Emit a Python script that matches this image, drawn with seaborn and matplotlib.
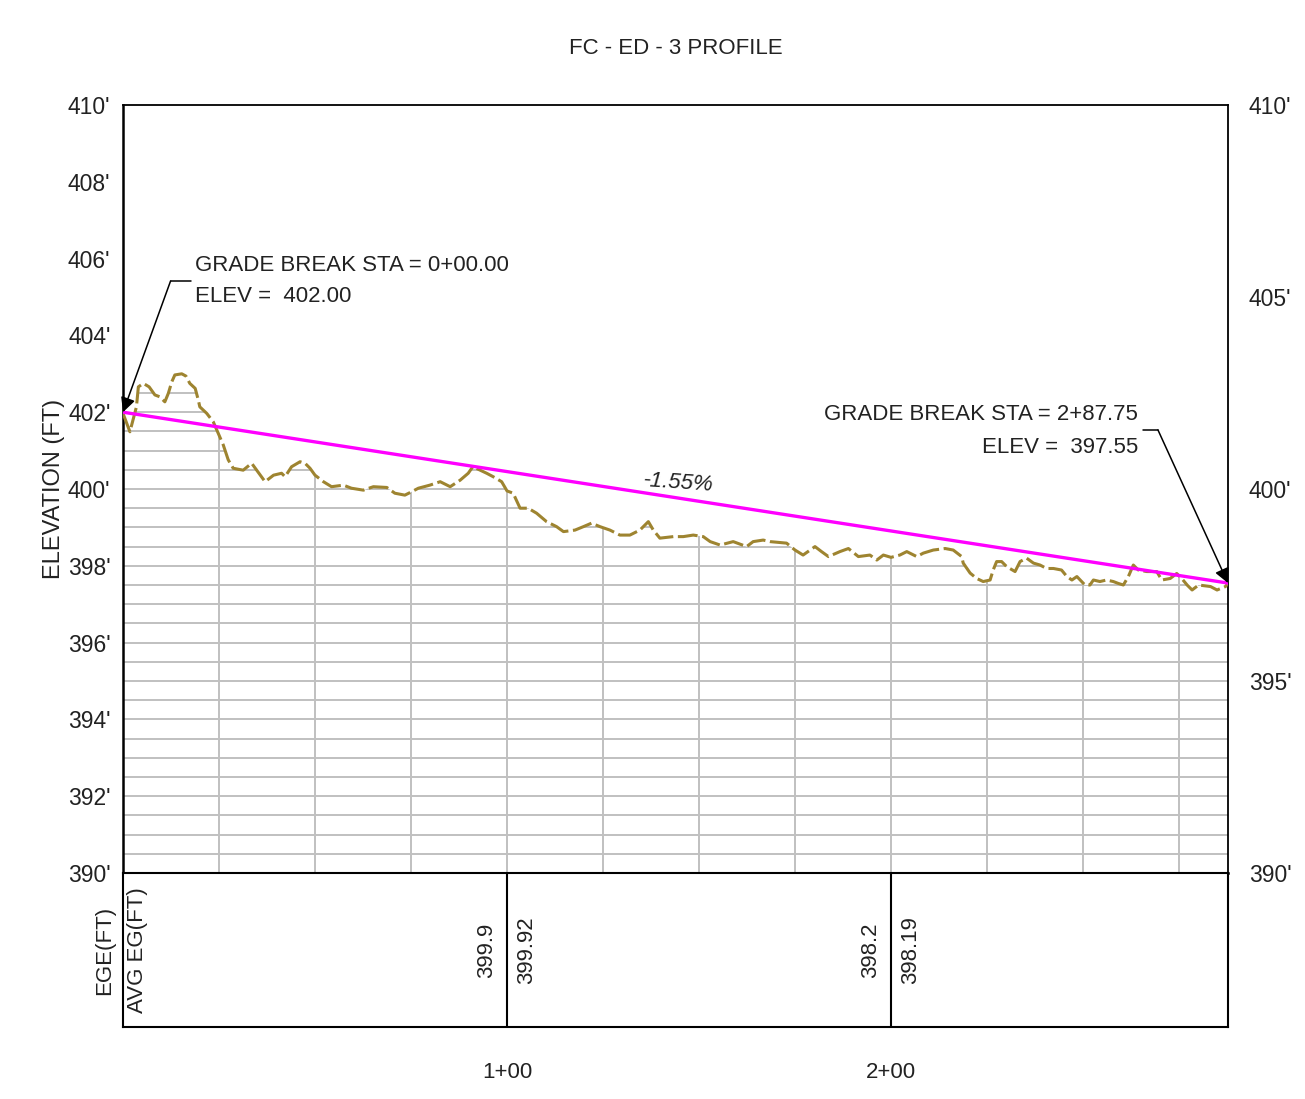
import numpy as np
import pandas as pd
import matplotlib
matplotlib.use("Agg")
import matplotlib.pyplot as plt
from matplotlib.patches import Polygon
import seaborn as sns

# Existing ground profile: station (ft) and elevation (ft)
stations = [0, 1.8, 3.5, 4.0, 5.3, 6.8, 8.3, 9.6, 10.9, 11.8, 12.7, 13.5, 15.3, 16.4,
            17.4, 18.8, 19.6, 20.0, 21.8, 23.5, 24.8, 26.1, 27.4, 28.7, 31.3, 33.5,
            34.8, 37.0, 39.2, 41.3, 42.2, 43.9, 46.1, 47.4, 48.7, 50.0, 52.2, 54.3,
            57.4, 59.5, 62.6, 65.2, 68.7, 70.8, 73.4, 75.2, 76.9, 79.9, 82.6, 85.2,
            87.8, 89.9, 91.1, 93.0, 94.7, 96.4, 98.6, 100.0, 101.6, 103.4, 105.5,
            107.7, 110.3, 112.9, 114.7, 117.7, 119.9, 122.0, 124.2, 126.8, 129.4,
            132.0, 134.6, 136.8, 138.1, 139.8, 143.3, 145.9, 148.5, 151.1, 152.9,
            155.5, 158.9, 162.4, 164.1, 166.7, 168.5, 172.8, 175.0, 177.1, 180.2,
            181.9, 183.7, 186.7, 188.9, 191.5, 194.5, 196.3, 198.0, 200.0, 202.3,
            204.1, 206.7, 208.4, 211.0, 214.1, 216.2, 218.4, 218.8, 220.6, 222.3,
            224.0, 225.8, 226.6, 227.5, 228.8, 230.1, 232.3, 233.6, 235.3, 237.1,
            238.8, 240.5, 242.3, 244.4, 245.8, 247.1, 248.4, 250.5, 251.8, 252.7,
            254.4, 256.1, 257.9, 259.2, 260.5, 261.8, 263.1, 264.4, 266.6, 269.2,
            270.5, 272.7, 274.4, 275.7, 277.1, 278.4, 280.1, 283.2, 284.9, 287.1,
            287.75]
ground_elev = [401.97, 401.49, 402.14, 402.66, 402.75, 402.66, 402.45, 402.40, 402.27,
               402.49, 402.79, 402.97, 403.00, 402.94, 402.75, 402.62, 402.32, 402.14,
               401.97, 401.75, 401.45, 401.15, 400.76, 400.54, 400.49, 400.67, 400.49,
               400.19, 400.36, 400.41, 400.32, 400.58, 400.71, 400.67, 400.54, 400.36,
               400.19, 400.06, 400.10, 400.02, 399.97, 400.06, 400.04, 399.89, 399.84,
               399.93, 400.02, 400.10, 400.19, 400.06, 400.23, 400.41, 400.58, 400.49,
               400.41, 400.32, 400.19, 399.95, 399.89, 399.50, 399.50, 399.37, 399.15,
               399.02, 398.89, 398.93, 399.02, 399.11, 399.02, 398.93, 398.80, 398.80,
               398.93, 399.15, 398.93, 398.72, 398.76, 398.76, 398.80, 398.76, 398.63,
               398.54, 398.63, 398.50, 398.63, 398.67, 398.63, 398.59, 398.41, 398.28,
               398.50, 398.37, 398.24, 398.37, 398.45, 398.24, 398.28, 398.15, 398.28,
               398.22, 398.28, 398.37, 398.24, 398.33, 398.41, 398.45, 398.41, 398.24,
               398.07, 397.81, 397.67, 397.59, 397.63, 397.89, 398.11, 398.11, 397.98,
               397.85, 398.11, 398.20, 398.07, 398.02, 397.93, 397.93, 397.89, 397.72,
               397.63, 397.72, 397.50, 397.50, 397.63, 397.59, 397.63, 397.59, 397.54,
               397.50, 397.72, 398.02, 397.89, 397.85, 397.85, 397.63, 397.67, 397.80,
               397.67, 397.50, 397.37, 397.50, 397.46, 397.37, 397.46, 397.55]

# Proposed grade between the two grade breaks
grade_sta = [0.0, 287.75]
grade_elev = [402.00, 397.55]
grade_label = "-1.55%"

# Band values below the profile
band_sta = [100, 200]
band_ege = ["399.9", "398.2"]
band_avg = ["399.92", "398.19"]
station_labels = ["1+00", "2+00"]

left_ticks = list(range(390, 411, 2))
right_ticks = list(range(390, 411, 5))

sns.set_theme(style="white")
plt.rcParams["font.family"] = ["Liberation Sans", "DejaVu Sans"]
plt.rcParams["axes.edgecolor"] = "black"

W, H = 1305, 1099
fig = plt.figure(figsize=(W / 100, H / 100), dpi=100)
fig.patch.set_facecolor("white")

x0, x1 = 123 / W, 1228 / W
ax = fig.add_axes([x0, 1 - 873 / H, x1 - x0, (873 - 105) / H])
tb = fig.add_axes([x0, 1 - 1027 / H, x1 - x0, (1027 - 873) / H])

xmin, xmax = 0.0, 287.75
ymin, ymax = 390, 410
ax.set_xlim(xmin, xmax)
ax.set_ylim(ymin, ymax)

# Grid hatching under the ground line
grid_color = "#c0c0c0"
under = Polygon(list(zip(stations, ground_elev)) + [(xmax, ymin), (xmin, ymin)],
                closed=True, transform=ax.transData, facecolor="none", edgecolor="none")
ax.add_patch(under)
h_lines = ax.hlines(np.arange(390.5, 403.5, 0.5), xmin, xmax, colors=grid_color, lw=1.4, zorder=1)
v_lines = ax.vlines(np.arange(25, 287, 25), ymin, 404, colors=grid_color, lw=1.4, zorder=1)
h_lines.set_clip_path(under)
v_lines.set_clip_path(under)

# Ground profile and grade line
prof = pd.DataFrame({"sta": stations, "elev": ground_elev})
sns.lineplot(data=prof, x="sta", y="elev", ax=ax, color="#9e8430", lw=2.2, zorder=3)
ax.lines[-1].set_dashes((6.5, 1.5))
grade = pd.DataFrame({"sta": grade_sta, "elev": grade_elev})
sns.lineplot(data=grade, x="sta", y="elev", ax=ax, color="#ff00ff", lw=2.4, zorder=4)

ax.text(144.5, 400.16, grade_label, fontsize=16, style="italic", rotation=-4,
        ha="center", va="center", color="#222222")

# Grade break callouts
txt_kw = dict(fontsize=16, color="#222222", va="center")
ax.text(18.8, 405.83, "GRADE BREAK STA = 0+00.00", ha="left", **txt_kw)
ax.text(18.8, 405.0, "ELEV =  402.00", ha="left", **txt_kw)
ax.text(264.3, 401.93, "GRADE BREAK STA = 2+87.75", ha="right", **txt_kw)
ax.text(264.3, 401.09, "ELEV =  397.55", ha="right", **txt_kw)

ax.plot([17.6, 12.4], [405.42, 405.42], color="black", lw=1.1, clip_on=False, zorder=5)
ax.annotate("", xy=(grade_sta[0], grade_elev[0]), xytext=(12.4, 405.42),
            arrowprops=dict(arrowstyle="-|>", color="black", lw=1.1, mutation_scale=22,
                            shrinkA=0, shrinkB=0), annotation_clip=False, zorder=5)
ax.plot([265.6, 269.5], [401.54, 401.54], color="black", lw=1.1, clip_on=False, zorder=5)
ax.annotate("", xy=(grade_sta[1], grade_elev[1]), xytext=(269.5, 401.54),
            arrowprops=dict(arrowstyle="-|>", color="black", lw=1.1, mutation_scale=22,
                            shrinkA=0, shrinkB=0), annotation_clip=False, zorder=5)

# Axes, ticks and labels
for s in ax.spines.values():
    s.set_color("black")
    s.set_linewidth(1.3)
ax.spines["bottom"].set_linewidth(1.8)
ax.spines["left"].set_linewidth(1.8)
ax.set_xticks([])
ax.set_yticks(left_ticks)
ax.set_yticklabels([f"{v}'" for v in left_ticks], fontsize=16.5, color="#222222")
ax.tick_params(axis="y", length=0, pad=9)
ax.set_xlabel("")
ax.set_ylabel("ELEVATION (FT)", fontsize=17, color="#222222", labelpad=2)

axr = ax.twinx()
axr.set_ylim(ymin, ymax)
axr.set_yticks(right_ticks)
axr.set_yticklabels([f"{v}'" for v in right_ticks], fontsize=16.5, color="#222222")
axr.tick_params(axis="y", length=0, pad=15)
axr.grid(False)
for s in axr.spines.values():
    s.set_visible(False)

fig.text(0.5 * (x0 + x1), 1 - 48 / H, "FC - ED - 3 PROFILE", ha="center", va="center",
         fontsize=16, color="#222222")

# Data band below the profile
tb.set_xlim(xmin, xmax)
tb.set_ylim(0, 1)
tb.set_yticks([])
for s in tb.spines.values():
    s.set_color("black")
    s.set_linewidth(1.5)
tb.vlines(band_sta, 0, 1, colors="black", lw=1.5)
for st, e, a in zip(band_sta, band_ege, band_avg):
    tb.text(st - 5.2, 0.5, e, rotation=90, ha="center", va="center", fontsize=16, color="#222222")
    tb.text(st + 5.2, 0.5, a, rotation=90, ha="center", va="center", fontsize=16, color="#222222")
tb.text(-4.8, 0.5, "EGE(FT)", rotation=90, ha="center", va="center", fontsize=16,
        color="#222222", clip_on=False)
tb.text(3.9, 0.5, "AVG EG(FT)", rotation=90, ha="center", va="center", fontsize=16,
        color="#222222")
tb.set_xticks(band_sta)
tb.set_xticklabels(station_labels, fontsize=16, color="#222222")
tb.tick_params(axis="x", length=0, pad=25)
tb.set_xlabel("")

fig.savefig("out.png", dpi=100, facecolor="white")
